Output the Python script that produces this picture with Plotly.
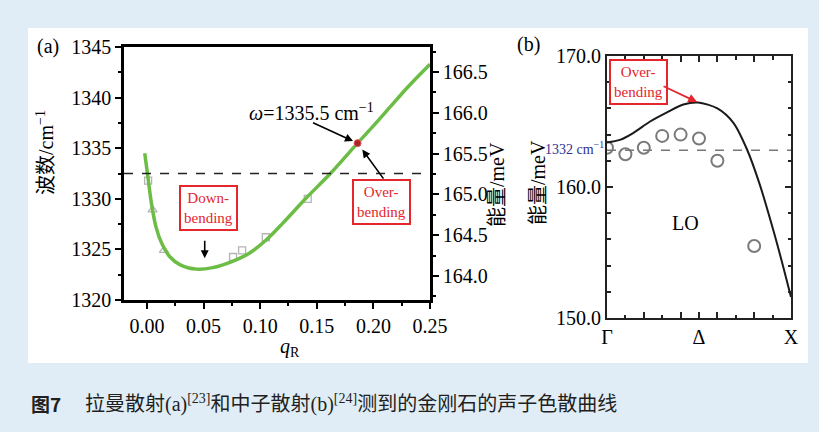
import plotly.graph_objects as go

# ---------------- data ----------------
# (a) Raman: LO phonon frequency vs wavevector q_R
raman_q = [-0.002, 0.001, 0.004, 0.008, 0.013, 0.020, 0.029, 0.044, 0.058, 0.075,
           0.090, 0.105, 0.120, 0.140, 0.162, 0.186, 0.200, 0.215, 0.230, 0.250]
raman_w = [1334.5, 1332.0, 1329.5, 1327.2, 1325.6, 1324.3, 1323.5, 1323.05, 1323.2, 1323.8,
           1324.6, 1325.9, 1327.6, 1330.0, 1332.5, 1335.5, 1337.2, 1339.1, 1341.0, 1343.3]
raman_sq_q = [0.001, 0.076, 0.084, 0.105, 0.142]
raman_sq_w = [1331.8, 1324.25, 1324.9, 1326.2, 1330.0]
raman_tri_q = [0.005, 0.015]
raman_tri_w = [1328.9, 1324.9]
omega_q, omega_w = 0.186, 1335.5
raman_ref_w = 1332.5

raman_yticks = [1320, 1325, 1330, 1335, 1340, 1345]
raman_xticks = [0.00, 0.05, 0.10, 0.15, 0.20, 0.25]
energy_ticks = [164.0, 164.5, 165.0, 165.5, 166.0, 166.5]

# (b) neutron scattering: LO branch along Gamma-Delta-X
path_x = [0.0, 0.07, 0.14, 0.234, 0.326, 0.415, 0.495, 0.60, 0.687, 0.76, 0.83, 0.904, 0.958, 1.0]
calc_E = [163.4, 163.6, 164.1, 165.0, 165.7, 166.3, 166.45, 166.0, 164.9, 162.9, 160.2, 156.7, 153.9, 151.6]
neutron_x = [0.0, 0.1, 0.2, 0.3, 0.4, 0.5, 0.6, 0.8]
neutron_E = [163.0, 162.5, 163.0, 163.9, 164.0, 163.7, 162.0, 155.5]
neutron_ref_E = 162.8
path_ticks = [0.0, 0.2, 0.4, 0.5, 0.6, 0.8, 1.0]
path_labels = ["Γ", "", "", "Δ", "", "", "X"]
neutron_yticks = [150.0, 160.0, 170.0]

# ---------------- layout helpers ----------------
W, H = 819, 432
def px(x):
    return x / W
def py(y):
    return 1 - y / H

SERIF = "Liberation Serif, Noto Sans CJK SC, serif"
SANS_CJK = "Noto Sans CJK SC, sans-serif"
RED = "#e5262d"
BLUE_BG = "#e1edf6"

fig = go.Figure()

# (a) traces
fig.add_trace(go.Scatter(x=raman_sq_q, y=raman_sq_w, mode="markers",
                         marker=dict(symbol="square-open", size=7, color="#b4b4b4",
                                     line=dict(width=1.3)), xaxis="x", yaxis="y"))
fig.add_trace(go.Scatter(x=raman_tri_q, y=raman_tri_w, mode="markers",
                         marker=dict(symbol="triangle-up-open", size=8, color="#b4b4b4",
                                     line=dict(width=1.3)), xaxis="x", yaxis="y"))
fig.add_trace(go.Scatter(x=raman_q, y=raman_w, mode="lines",
                         line=dict(color="#6cbd45", width=3.5, shape="spline", smoothing=0.8),
                         xaxis="x", yaxis="y"))
fig.add_trace(go.Scatter(x=[omega_q], y=[omega_w], mode="markers",
                         marker=dict(size=7, color="#a8242b", line=dict(color="#e05a5f", width=1)),
                         xaxis="x", yaxis="y"))
# energy scale companion axis
fig.add_trace(go.Scatter(x=[], y=[], xaxis="x", yaxis="y2", showlegend=False))

# (b) traces
fig.add_trace(go.Scatter(x=neutron_x, y=neutron_E, mode="markers",
                         marker=dict(symbol="circle-open", size=12, color="#7a7a7a",
                                     line=dict(width=2)), xaxis="x3", yaxis="y3"))
fig.add_trace(go.Scatter(x=path_x, y=calc_E, mode="lines",
                         line=dict(color="#1a1a1a", width=2, shape="spline", smoothing=0.8),
                         xaxis="x3", yaxis="y3"))

tickfont = dict(family=SERIF, size=20, color="black")
common = dict(showgrid=False, zeroline=False, automargin=False)

fig.update_layout(
    width=W, height=H,
    margin=dict(l=0, r=0, t=0, b=0, pad=0, autoexpand=False),
    paper_bgcolor=BLUE_BG,
    plot_bgcolor="white",
    showlegend=False,
    font=dict(family=SERIF),
    xaxis=dict(domain=[px(124), px(430)], range=[-0.0203, 0.25], anchor="y",
               tickvals=raman_xticks, tickformat=".2f", tickfont=tickfont,
               ticks="outside", ticklen=6, tickwidth=1.5, tickcolor="black",
               minor=dict(dtick=0.025, ticks="outside", ticklen=3.5, tickwidth=1.5, tickcolor="black"),
               showline=True, linewidth=2.5, linecolor="black", mirror=True, **common),
    yaxis=dict(domain=[py(300), py(47)], range=[1320, 1345], anchor="x",
               tickvals=raman_yticks, tickfont=tickfont,
               ticks="outside", ticklen=6, tickwidth=1.5, tickcolor="black",
               minor=dict(dtick=2.5, ticks="outside", ticklen=3.5, tickwidth=1.5, tickcolor="black"),
               showline=True, linewidth=2.5, linecolor="black", **common),
    yaxis2=dict(overlaying="y", side="right", anchor="x", range=[163.706, 166.807],
                tickvals=energy_ticks, tickformat=".1f", tickfont=tickfont,
                ticks="outside", ticklen=6, tickwidth=1.5, tickcolor="black",
                minor=dict(dtick=0.25, ticks="outside", ticklen=3.5, tickwidth=1.5, tickcolor="black"),
                showline=True, linewidth=2.5, linecolor="black", **common),
    xaxis3=dict(domain=[px(607), px(791)], range=[0, 1], anchor="y3",
                tickvals=path_ticks, ticktext=path_labels, tickfont=tickfont,
                ticks="inside", ticklen=6, tickwidth=1.5, tickcolor="#222",
                minor=dict(dtick=0.1, ticks="inside", ticklen=3.5, tickwidth=1.5, tickcolor="#222"),
                showline=True, linewidth=2, linecolor="#222", mirror="allticks", **common),
    yaxis3=dict(domain=[py(318), py(56)], range=[150, 170], anchor="x3",
                tickvals=neutron_yticks, tickformat=".1f", tickfont=tickfont,
                ticks="inside", ticklen=6, tickwidth=1.5, tickcolor="#222",
                minor=dict(dtick=2, ticks="inside", ticklen=3.5, tickwidth=1.5, tickcolor="#222"),
                showline=True, linewidth=2, linecolor="#222", mirror="allticks", **common),
)

# white figure panel and reference lines
fig.add_shape(type="rect", xref="paper", yref="paper", x0=px(28), x1=px(808),
              y0=py(363), y1=py(28), fillcolor="white", line=dict(width=0), layer="below")
fig.add_shape(type="line", xref="x domain", yref="y", x0=0, x1=1,
              y0=raman_ref_w, y1=raman_ref_w, line=dict(color="#222", width=1.5, dash="dash"))
fig.add_shape(type="line", xref="x3 domain", yref="y3", x0=0, x1=1,
              y0=neutron_ref_E, y1=neutron_ref_E, line=dict(color="#777", width=1.5, dash="dash"))

def label(text, x, y, size=20, color="black", angle=0, xanchor="center", family=SERIF):
    fig.add_annotation(text=text, xref="paper", yref="paper", x=px(x), y=py(y),
                       xanchor=xanchor, yanchor="middle", showarrow=False, textangle=angle,
                       font=dict(family=family, size=size, color=color))

def box(text, x, y):
    fig.add_annotation(text=text, xref="paper", yref="paper", x=px(x), y=py(y),
                       xanchor="center", yanchor="middle", showarrow=False,
                       font=dict(family=SERIF, size=15, color=RED),
                       bordercolor=RED, borderwidth=2, borderpad=3, bgcolor="white")

# panel labels and axis titles
label("(a)", 48, 47)
label("(b)", 528, 45)
label("波数/cm<sup>−1</sup>", 45, 153, angle=-90)
label("能量/meV", 497, 184, angle=-90)
label("能量/meV", 538, 183, angle=-90)
label("<i>q</i><sub>R</sub>", 290, 347)

# (a) annotations
label("<i>ω</i>=1335.5 cm<sup>−1</sup>", 311, 112)
fig.add_annotation(x=omega_q, y=omega_w, xref="x", yref="y", text="", showarrow=True,
                   ax=-46, ay=-21, arrowhead=2, arrowsize=1, arrowwidth=1.6,
                   arrowcolor="black", standoff=5)
fig.add_annotation(x=omega_q, y=omega_w, xref="x", yref="y", text="", showarrow=True,
                   ax=27, ay=37, arrowhead=2, arrowsize=1, arrowwidth=1.6,
                   arrowcolor="black", standoff=8)
box("Over-<br>bending", 381, 202)
box("Down-<br>bending", 208, 208)
fig.add_annotation(x=0.051, y=1323.05, xref="x", yref="y", text="", showarrow=True,
                   ax=0, ay=-30, arrowhead=2, arrowsize=1, arrowwidth=1.6,
                   arrowcolor="black", standoff=11)

# (b) annotations
label("1332 cm<sup>−1</sup>", 606, 148, size=14, color="#2e3192", xanchor="right")
label("LO", 685, 223)
box("Over-<br>bending", 638, 82)
fig.add_annotation(x=path_x[6], y=calc_E[6], xref="x3", yref="y3", text="", showarrow=True,
                   ax=-36, ay=-17, arrowhead=2, arrowsize=1, arrowwidth=1.8,
                   arrowcolor=RED, standoff=1)

# caption
label("<b>图7</b>", 29, 403, size=19, color="#231f20", xanchor="left", family=SANS_CJK)
label("拉曼散射(a)<sup>[23]</sup>和中子散射(b)<sup>[24]</sup>测到的金刚石的声子色散曲线",
      83, 403, size=20, color="#231f20", xanchor="left")

fig.write_html("out.html")
